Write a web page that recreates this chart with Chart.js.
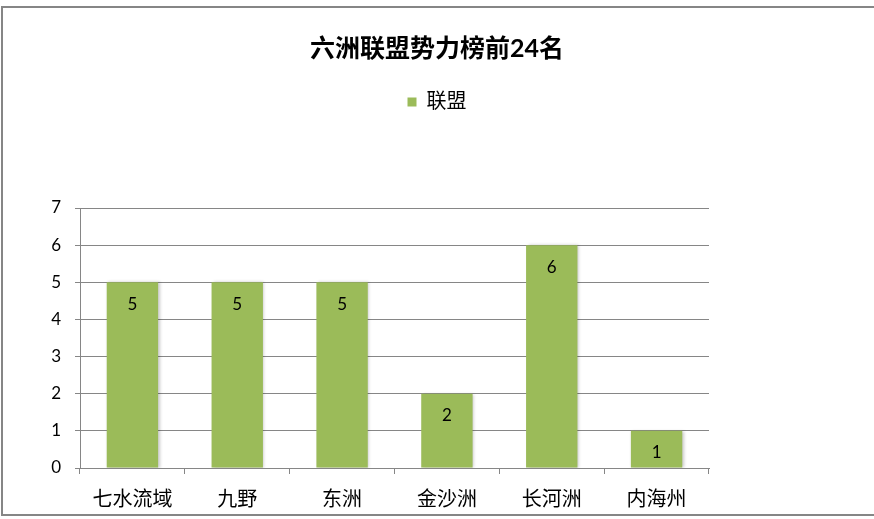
<!DOCTYPE html>
<html>
<head>
<meta charset="utf-8">
<script src="https://cdn.jsdelivr.net/npm/chart.js@4"></script>
<style>
  html, body { margin: 0; padding: 0; background: #fff; }
  #wrap { position: relative; width: 874px; height: 519px; overflow: hidden; }
  #frame { position: absolute; left: 1px; top: 6px; width: 890px; height: 506px; border: 2px solid #868686; }
  canvas { position: absolute; left: 0; top: 0; }
</style>
</head>
<body>
<div id="wrap">
  <div id="frame"></div>
  <canvas id="chart" width="874" height="519"></canvas>
</div>
<script>
const chartTitle = "六洲联盟势力榜前24名";
const seriesName = "联盟";
const categories = ["七水流域", "九野", "东洲", "金沙洲", "长河洲", "内海州"];
const values = [5, 5, 5, 2, 6, 1];
const yTicks = [0, 1, 2, 3, 4, 5, 6, 7];

const fontFamily = "Lato, 'Noto Sans CJK SC', sans-serif";
const barColor = "#9bbb59";
const gridColor = "#868686";

// 图例下面留出空白，让绘图区往下
const legendGap = {
  id: "legendGap",
  beforeInit(chart) {
    const fit = chart.legend.fit;
    chart.legend.fit = function () {
      fit.bind(chart.legend)();
      this.height += 86;
    };
  }
};

// 柱子里的数值标签
const barLabels = {
  id: "barLabels",
  afterDatasetsDraw(chart) {
    const ctx = chart.ctx;
    const meta = chart.getDatasetMeta(0);
    ctx.save();
    ctx.fillStyle = "#000";
    ctx.font = "17px " + fontFamily;
    ctx.textAlign = "center";
    ctx.textBaseline = "middle";
    meta.data.forEach((bar, i) => {
      ctx.fillText(values[i], bar.x, bar.y + 22);
    });
    ctx.restore();
  }
};

const barShadow = {
  id: "barShadow",
  beforeDatasetsDraw(chart) {
    const ctx = chart.ctx;
    ctx.save();
    ctx.shadowColor = "rgba(0,0,0,0.22)";
    ctx.shadowBlur = 3;
    ctx.shadowOffsetX = 1.5;
    ctx.shadowOffsetY = 0;
  },
  afterDatasetsDraw(chart) {
    chart.ctx.restore();
  }
};

new Chart(document.getElementById("chart").getContext("2d"), {
  type: "bar",
  data: {
    labels: categories,
    datasets: [{
      label: seriesName,
      data: values,
      backgroundColor: barColor,
      borderWidth: 0,
      categoryPercentage: 1,
      barPercentage: 0.49
    }]
  },
  options: {
    responsive: false,
    animation: false,
    devicePixelRatio: 1,
    layout: {
      padding: { top: 10, right: 0, bottom: 0, left: 0 }
    },
    plugins: {
      title: {
        display: true,
        text: chartTitle,
        color: "#000",
        font: { family: fontFamily, size: 25, weight: "bold" },
        padding: { top: 24, bottom: 18 }
      },
      legend: {
        position: "top",
        labels: {
          color: "#000",
          font: { family: fontFamily, size: 20 },
          boxWidth: 9,
          boxHeight: 9,
          padding: 10
        }
      },
      tooltip: { enabled: false }
    },
    scales: {
      x: {
        grid: {
          display: true,
          drawOnChartArea: false,
          drawTicks: true,
          tickLength: 6,
          color: gridColor
        },
        border: { display: true, color: gridColor },
        ticks: {
          color: "#000",
          font: { family: fontFamily, size: 20 },
          padding: 14,
          maxRotation: 0
        },
        afterFit(scale) {
          scale.height = 51;
        }
      },
      y: {
        min: 0,
        max: 7,
        afterBuildTicks(scale) {
          scale.ticks = yTicks.map(v => ({ value: v }));
        },
        grid: {
          color: gridColor,
          tickLength: 5
        },
        border: { display: true, color: gridColor },
        ticks: {
          color: "#000",
          font: { family: fontFamily, size: 17 },
          padding: 14
        },
        afterFit(scale) {
          scale.width = 80;
        }
      },
      // 右侧空白：标题和图例仍按整张图居中
      rightSpace: {
        position: "right",
        display: true,
        grid: { display: false },
        border: { display: false },
        ticks: { display: false },
        afterFit(scale) {
          scale.width = 165;
        }
      }
    }
  },
  plugins: [legendGap, barShadow, barLabels]
});
</script>
</body>
</html>
